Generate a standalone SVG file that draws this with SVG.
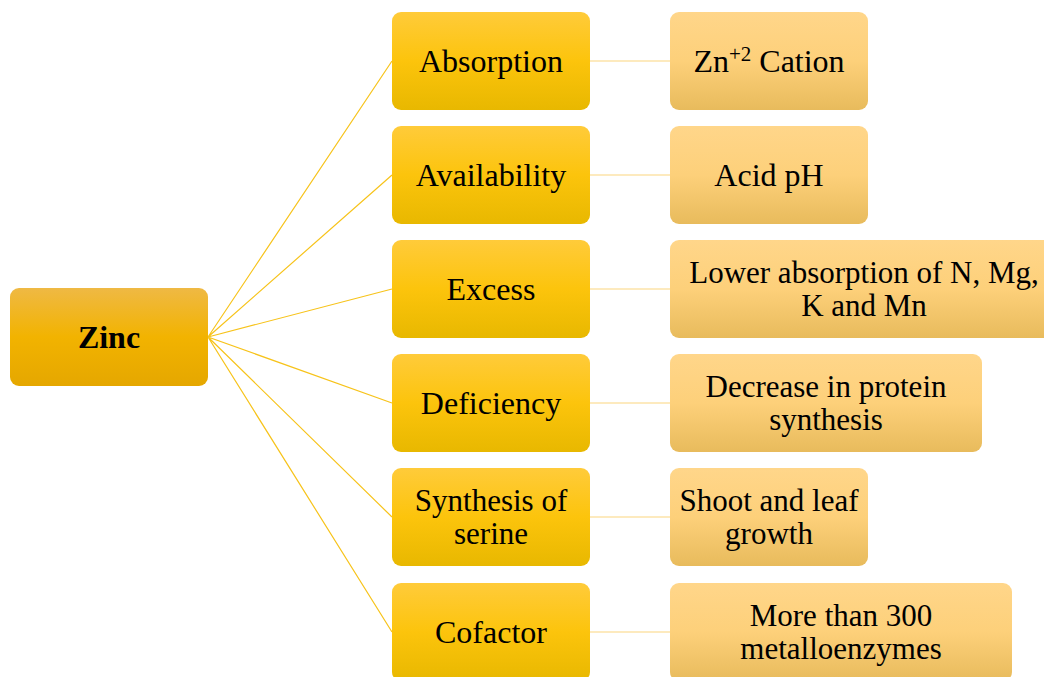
<svg xmlns="http://www.w3.org/2000/svg" width="1044" height="677" viewBox="0 0 1044 677">
<defs>
<linearGradient id="gRoot" x1="0" y1="0" x2="0" y2="1">
<stop offset="0" stop-color="#EFB944"/><stop offset="0.5" stop-color="#F2B300"/><stop offset="1" stop-color="#E5A700"/>
</linearGradient>
<linearGradient id="gMid" x1="0" y1="0" x2="0" y2="1">
<stop offset="0" stop-color="#FFCB3A"/><stop offset="0.5" stop-color="#FCC40C"/><stop offset="1" stop-color="#E8B800"/>
</linearGradient>
<linearGradient id="gLeaf" x1="0" y1="0" x2="0" y2="1">
<stop offset="0" stop-color="#FFD68A"/><stop offset="0.5" stop-color="#FDD07A"/><stop offset="1" stop-color="#E8BB5C"/>
</linearGradient>
</defs>
<style>
.root{fill:url(#gRoot)}
.mid{fill:url(#gMid)}
.leaf{fill:url(#gLeaf)}
text{font-family:"Liberation Serif","Times New Roman",serif;font-size:32px;fill:#000;text-anchor:middle}
.t2{font-size:31px}
.b{font-weight:bold}
.c1{stroke:#F7C31A;stroke-width:1.2;fill:none}
.c2{stroke:#FCD67E;stroke-width:1.2;fill:none}
</style>
<g id="connectors">
<path class="c1" d="M208 337L392 61M208 337L392 175M208 337L392 289M208 337L392 403M208 337L392 517M208 337L392 632"/>
<path class="c2" d="M590 61H670M590 175H670M590 289H670M590 403H670M590 517H670M590 632H670"/>
</g>
<g id="zinc"><rect class="root" x="10" y="288" width="198" height="98" rx="9"/><text class="b" x="109" y="348">Zinc</text></g>
<g id="absorption"><rect class="mid" x="392" y="12" width="198" height="98" rx="9"/><text x="491" y="72">Absorption</text></g>
<g id="availability"><rect class="mid" x="392" y="126" width="198" height="98" rx="9"/><text x="491" y="186">Availability</text></g>
<g id="excess"><rect class="mid" x="392" y="240" width="198" height="98" rx="9"/><text x="491" y="300">Excess</text></g>
<g id="deficiency"><rect class="mid" x="392" y="354" width="198" height="98" rx="9"/><text x="491" y="414">Deficiency</text></g>
<g id="synthesis"><rect class="mid" x="392" y="468" width="198" height="98" rx="9"/><text class="t2" x="491" y="511">Synthesis of</text><text class="t2" x="491" y="544">serine</text></g>
<g id="cofactor"><rect class="mid" x="392" y="583" width="198" height="98" rx="9"/><text x="491" y="643">Cofactor</text></g>
<g id="cation"><rect class="leaf" x="670" y="12" width="198" height="98" rx="9"/><text x="769" y="72">Zn<tspan font-size="21" dy="-11">+2</tspan><tspan dy="11"> Cation</tspan></text></g>
<g id="acid"><rect class="leaf" x="670" y="126" width="198" height="98" rx="9"/><text x="769" y="186">Acid pH</text></g>
<g id="lower"><rect class="leaf" x="670" y="240" width="392" height="98" rx="9"/><text class="t2" x="864" y="283">Lower absorption of N, Mg,</text><text class="t2" x="864" y="316">K and Mn</text></g>
<g id="decrease"><rect class="leaf" x="670" y="354" width="312" height="98" rx="9"/><text class="t2" x="826" y="397">Decrease in protein</text><text class="t2" x="826" y="430">synthesis</text></g>
<g id="shoot"><rect class="leaf" x="670" y="468" width="198" height="98" rx="9"/><text class="t2" x="769" y="511">Shoot and leaf</text><text class="t2" x="769" y="544">growth</text></g>
<g id="more"><rect class="leaf" x="670" y="583" width="342" height="98" rx="9"/><text class="t2" x="841" y="626">More than 300</text><text class="t2" x="841" y="659">metalloenzymes</text></g>
</svg>
